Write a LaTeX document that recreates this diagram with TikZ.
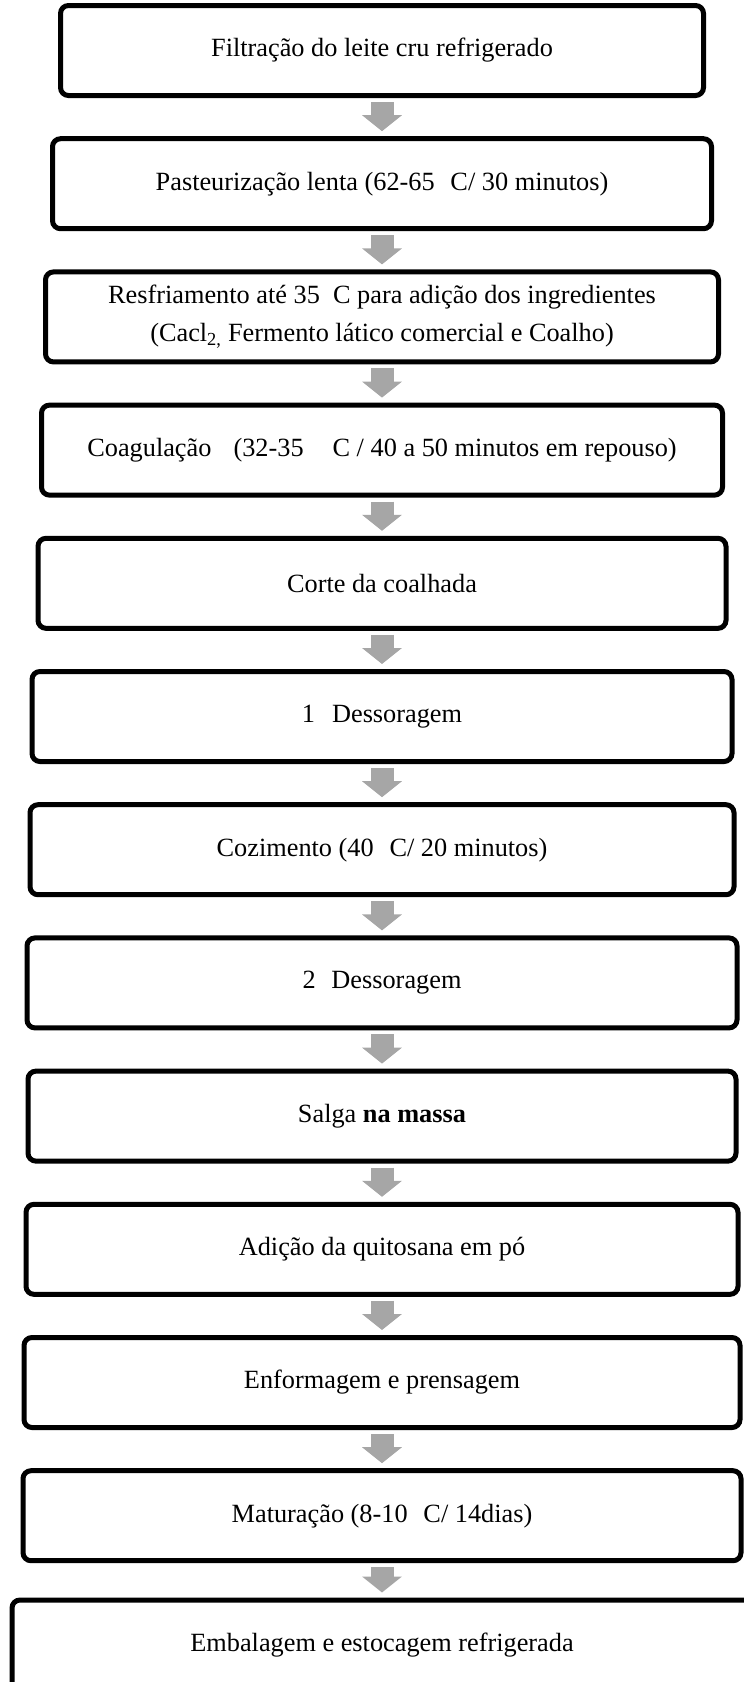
\documentclass[tikz,border=0pt]{standalone}
\usepackage{fontspec}
\setmainfont{Liberation Serif}
\usetikzlibrary{arrows.meta}
\definecolor{arrowgray}{RGB}{166,166,166}
\tikzset{
  stepbox/.style={draw=black, line width=5pt, rounded corners=8pt, minimum height=90pt,
    inner sep=0pt, align=center, fill=white, font=\fontsize{26.3}{38}\selectfont},
  flowarrow/.style={draw=arrowgray, line width=23pt, -{Triangle[width=39pt,length=16pt]}}
}
\begin{document}
\begin{tikzpicture}[x=1pt,y=-1pt]
\clip (0,0) rectangle (744,1682);
\fill[white] (0,0) rectangle (744,1682);
\node[stepbox, minimum width=643pt] (b1) at (382,50.5) {Filtração do leite cru refrigerado};
\node[stepbox, minimum width=659pt] (b2) at (382,183.7) {Pasteurização lenta (62-65\hspace{0.6em}C/ 30 minutos)};
\node[stepbox, minimum width=673pt] (b3) at (382,316.9) {Resfriamento até 35\hspace{0.5em}C para adição dos ingredientes\\(Cacl\textsubscript{2,} Fermento lático comercial e Coalho)};
\node[stepbox, minimum width=681pt] (b4) at (382,450.1) {Coagulação\hspace{0.84em}(32-35\hspace{1.1em}C / 40 a 50 minutos em repouso)};
\node[stepbox, minimum width=688pt] (b5) at (382,583.3) {Corte da coalhada};
\node[stepbox, minimum width=700pt] (b6) at (382,716.5) {1\hspace{0.65em}Dessoragem};
\node[stepbox, minimum width=704pt] (b7) at (382,849.7) {Cozimento (40\hspace{0.6em}C/ 20 minutos)};
\node[stepbox, minimum width=710pt] (b8) at (382,982.9) {2\hspace{0.6em}Dessoragem};
\node[stepbox, minimum width=708pt] (b9) at (382,1116.1) {Salga \textbf{na massa}};
\node[stepbox, minimum width=712pt] (b10) at (382,1249.3) {Adição da quitosana em pó};
\node[stepbox, minimum width=716pt] (b11) at (382,1382.5) {Enformagem e prensagem};
\node[stepbox, minimum width=718pt] (b12) at (382,1515.7) {Maturação (8-10\hspace{0.6em}C/ 14dias)};
\node[stepbox, minimum width=740pt] (b13) at (382,1645) {Embalagem e estocagem refrigerada};
\foreach \a/\b in {b1/b2,b2/b3,b3/b4,b4/b5,b5/b6,b6/b7,b7/b8,b8/b9,b9/b10,b10/b11,b11/b12,b12/b13}{
  \draw[flowarrow] ([yshift=-4pt]\a.south) -- ([yshift=5pt]\b.north);
}
\end{tikzpicture}
\end{document}
